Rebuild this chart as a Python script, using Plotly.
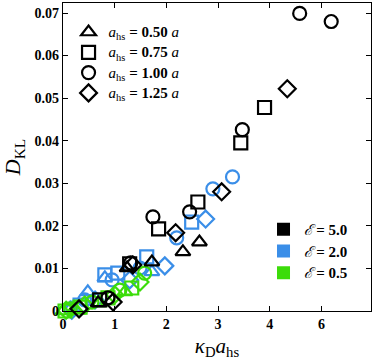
import plotly.graph_objects as go

# kappa_D * a_hs (axis units) and D_KL
# black: epsilon = 5.0
black_tri_x = [2.64, 2.32, 1.72, 1.24, 0.68]
black_tri_y = [0.0162, 0.0139, 0.0115, 0.0101, 0.0019]
black_sq_x = [3.90, 3.44, 2.61, 1.85, 1.29, 0.71]
black_sq_y = [0.0478, 0.0395, 0.0256, 0.0193, 0.0111, 0.0026]
black_circ_x = [4.58, 5.19, 3.47, 2.45, 1.74, 1.31, 0.87]
black_circ_y = [0.0699, 0.0680, 0.0426, 0.0233, 0.0221, 0.0113, 0.0031]
black_dia_x = [4.34, 3.07, 2.18, 1.35, 0.97, 0.31]
black_dia_y = [0.0522, 0.0280, 0.0184, 0.0108, 0.0021, 0.0005]

# blue: epsilon = 2.0
blue_tri_x = [1.72, 0.81, 0.48, 0.14]
blue_tri_y = [0.0092, 0.0078, 0.0045, 0.0007]
blue_sq_x = [2.49, 1.62, 1.06, 0.81, 0.33]
blue_sq_y = [0.0209, 0.0127, 0.0089, 0.0085, 0.0014]
blue_circ_x = [3.28, 2.90, 2.20, 1.49, 0.95, 0.42]
blue_circ_y = [0.0315, 0.0287, 0.0172, 0.0101, 0.0073, 0.0026]
blue_dia_x = [2.76, 1.97, 1.29, 0.62, 0.17]
blue_dia_y = [0.0216, 0.0106, 0.0073, 0.0026, 0.0002]

# green: epsilon = 0.5
green_tri_x = [1.20, 0.71, 0.23, 0.0]
green_tri_y = [0.0045, 0.0019, 0.0005, 0.0]
green_sq_x = [1.33, 0.87, 0.33, 0.04]
green_sq_y = [0.0054, 0.0031, 0.0009, 0.0]
green_circ_x = [1.58, 1.10, 0.56, 0.14]
green_circ_y = [0.0089, 0.0049, 0.0021, 0.0005]
green_dia_x = [1.49, 1.00, 0.42, 0.06]
green_dia_y = [0.0068, 0.0038, 0.0014, 0.0002]

size_labels = ["0.50", "0.75", "1.00", "1.25"]
eps_labels = ["5.0", "2.0", "0.5"]
x_ticks = ["0", "1", "2", "3", "4", "6"]
y_ticks = ["0", "0.01", "0.02", "0.03", "0.04", "0.05", "0.06", "0.07"]

BLACK = "#000000"
BLUE = "#3a8ee8"
GREEN = "#3cdc0a"
SYMBOLS = ["triangle-up-open", "square-open", "circle-open", "diamond-open"]
SERIF = "Liberation Serif"

series = [
    (BLUE, [(blue_tri_x, blue_tri_y), (blue_sq_x, blue_sq_y),
            (blue_circ_x, blue_circ_y), (blue_dia_x, blue_dia_y)]),
    (GREEN, [(green_tri_x, green_tri_y), (green_sq_x, green_sq_y),
             (green_circ_x, green_circ_y), (green_dia_x, green_dia_y)]),
    (BLACK, [(black_tri_x, black_tri_y), (black_sq_x, black_sq_y),
             (black_circ_x, black_circ_y), (black_dia_x, black_dia_y)]),
]

fig = go.Figure()

for color, sets in series:
    for sym, (xs, ys) in zip(SYMBOLS, sets):
        fig.add_trace(go.Scatter(
            x=xs, y=ys, mode="markers", showlegend=False, cliponaxis=False,
            marker=dict(symbol=sym, size=13, color=color, line=dict(width=2.2, color=color)),
        ))

# legend 1: marker shapes (text enlarged inside a tighter legend row)
for sym, lab in zip(SYMBOLS, size_labels):
    fig.add_trace(go.Scatter(
        x=[None], y=[None], mode="markers", legend="legend",
        name=(f"<span style='font-size:15px'><i>a</i><sub>hs</sub> "
              f"<b>= {lab}</b> <i>a</i></span>"),
        marker=dict(symbol=sym, size=13, color=BLACK, line=dict(width=2.2, color=BLACK)),
    ))

# legend 2: colours
for color, lab in zip([BLACK, BLUE, GREEN], eps_labels):
    fig.add_trace(go.Scatter(
        x=[None], y=[None], mode="markers", legend="legend2",
        name=f"<span style='font-size:15px'><i>ℰ</i> <b>= {lab}</b></span>",
        marker=dict(symbol="square", size=13, color=color),
    ))

axis_common = dict(
    showline=True, linecolor="black", linewidth=1.2, mirror="ticks",
    ticks="inside", ticklen=5, tickwidth=1.2, tickcolor="black",
    showgrid=False, zeroline=False, automargin=False,
    tickfont=dict(family=SERIF, size=14, color="black", weight="bold"),
)

fig.update_layout(
    width=374, height=360,
    margin=dict(l=63, r=3, t=3, b=49),
    paper_bgcolor="white", plot_bgcolor="white",
    xaxis=dict(
        range=[0, 5.96], tickvals=list(range(6)), ticktext=x_ticks,
        title=dict(text="<i>κ</i><sub>D</sub><i>a</i><sub>hs</sub>",
                   font=dict(family=SERIF, size=21, color="black")),
        **axis_common,
    ),
    yaxis=dict(
        range=[0, 0.07235], tickvals=[i / 100 for i in range(8)], ticktext=y_ticks,
        title=dict(text="<i>D</i><sub>KL</sub>",
                   font=dict(family=SERIF, size=22, color="black")),
        **axis_common,
    ),
    legend=dict(
        x=0.018, y=0.955, xanchor="left", yanchor="top", bgcolor="rgba(0,0,0,0)",
        font=dict(family=SERIF, size=13.3, color="black"), itemsizing="trace",
        tracegroupgap=0,
    ),
    legend2=dict(
        x=0.651, y=0.317, xanchor="left", yanchor="top", bgcolor="rgba(0,0,0,0)",
        font=dict(family=SERIF, size=14.4, color="black"), itemsizing="trace",
    ),
)

# drop the default page margin so the figure sits at the window's corner
fig.write_html("out.html", config={"displayModeBar": False},
               post_script="document.body.style.margin = '0';")
